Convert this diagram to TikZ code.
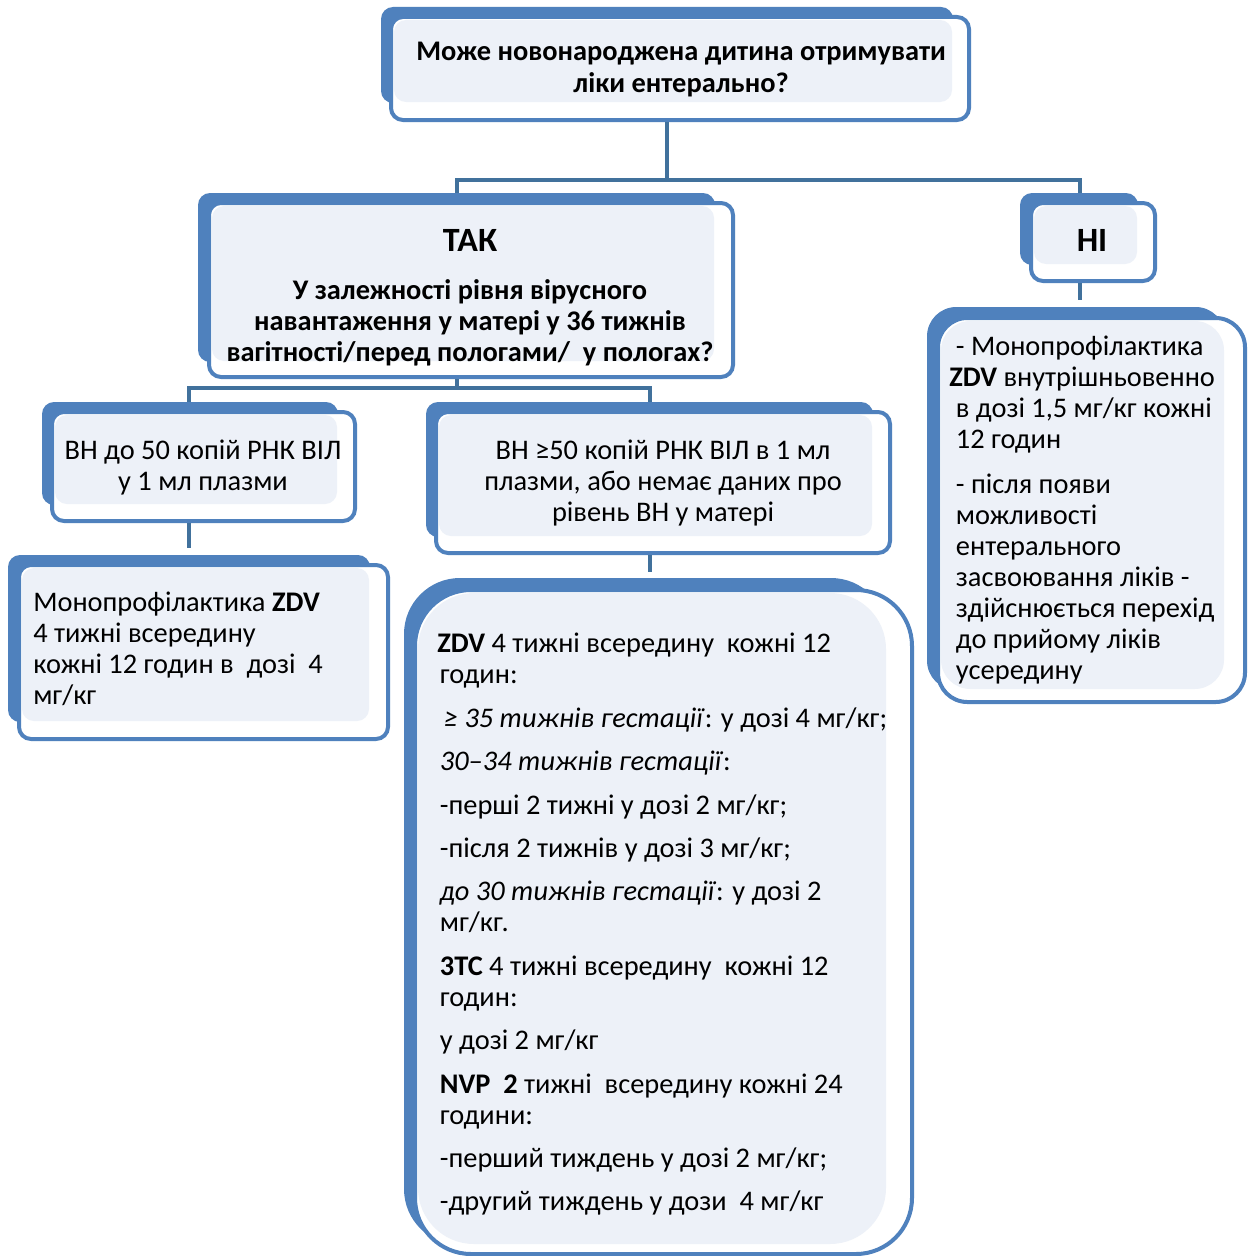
\documentclass[tikz,border=0pt]{standalone}
\usepackage{fontspec}
\setmainfont{Carlito}
\usetikzlibrary{fit,calc}
\definecolor{boxblue}{HTML}{4F81BD}
\definecolor{lightfill}{HTML}{EDF1F8}
\definecolor{connblue}{HTML}{41719C}
\newcommand\drawbox[9]{%
  \node[shadowbox, rounded corners=\rad, fit={(#2,#3) (#4,#5)}] (#1A) {};
  \node[outbox, rounded corners=\rad, fit={(#6,#7) (#8,#9)}] (#1) {};
  \fill[lightfill, rounded corners=\rad] ({#6+3},{#7+3}) rectangle ({#4-1},{#5-1});
}
\begin{document}
\begin{tikzpicture}[x=0.75pt,y=-0.75pt,
  shadowbox/.style={fill=boxblue, draw=none, inner sep=0pt},
  outbox/.style={draw=boxblue, line width=3pt, fill=white, inner sep=0pt},
  conn/.style={draw=connblue, line width=3pt},
  txt/.style={font=\fontsize{21.3}{23.25}\selectfont, inner sep=0pt},
  txtb/.style={font=\bfseries\fontsize{21.3}{23.25}\selectfont, inner sep=0pt},
  head/.style={font=\bfseries\fontsize{25.5}{28}\selectfont, inner sep=0pt}]
\useasboundingbox (0,0) rectangle (1247,1256);
\fill[white] (0,0) rectangle (1247,1256);

% boxes
\def\rad{9pt}
\drawbox{top}{381}{7}{953}{103}{391}{17}{969}{120}
\drawbox{tak}{198}{193}{715}{362}{209}{203}{733}{377}
\drawbox{ni}{1020}{193}{1138}{265}{1031}{203}{1155}{281}
\drawbox{vnl}{42}{402}{338}{505}{52}{412}{355}{521}
\drawbox{vnr}{426}{402}{873}{537}{436}{412}{890}{553}
\drawbox{mono}{8}{555}{370}{722}{19}{565}{388}{739}
\def\rad{22pt}
\drawbox{niv}{927}{307}{1225}{690}{938}{318}{1245}{702}
\def\rad{42pt}
\drawbox{big}{404}{578}{887}{1245}{415}{590}{912}{1254}

% connector junctions
\coordinate (j1m) at (667,180);
\coordinate (j1l) at (457,180);
\coordinate (j1r) at (1080,180);
\coordinate (j2m) at (457,388);
\coordinate (j2l) at (189,388);
\coordinate (j2r) at (650,388);
\coordinate (j3) at (189,548);
\coordinate (j4) at (650,572);
\coordinate (j5) at (1080,300);

\draw[conn] (top.south -| j1m) -- (j1m);
\draw[conn] (j1l |- takA.north) -- (j1l) -- (j1r) -- (j1r |- niA.north);
\draw[conn] (tak.south -| j2m) -- (j2m);
\draw[conn] (j2l |- vnlA.north) -- (j2l) -- (j2r) -- (j2r |- vnrA.north);
\draw[conn] (vnl.south -| j3) -- (j3);
\draw[conn] (vnr.south -| j4) -- (j4);
\draw[conn] (ni.south -| j5) -- (j5);

% texts
\node[txtb, align=center, anchor=north, font=\bfseries\fontsize{21.3}{24}\selectfont] (ttop) at (681,37.6)
  {\strut Може новонароджена дитина отримувати\\ліки ентерально?};
\node[head, anchor=base] (ttak) at (470,251) {ТАК};
\node[txtb, align=center, anchor=north] (ttak2) at (470,277.3)
  {\strut У залежності рівня вірусного\\навантаження у матері у 36 тижнів\\вагітності/перед пологами/\ \ у пологах?};
\node[head, anchor=base] (tni) at (1092,251) {НІ};
\node[txt, align=center, anchor=north] (tvnl) at (203,437.3)
  {\strut ВН до 50 копій РНК ВІЛ\\у 1 мл плазми};
\node[txt, align=center, anchor=north] (tvnr) at (663,437.3)
  {\strut ВН ≥50 копій РНК ВІЛ в 1 мл\\плазми, або немає даних про\\рівень ВН у матері};
\node[txt, align=left, anchor=north west] (tmono) at (33,589.3)
  {\strut Монопрофілактика \textbf{ZDV}\\4 тижні всередину\\кожні 12 годин в\ \ дозі\ \ 4\\мг/кг};
\node[txt, align=left, anchor=north west] (tniv) at (949,333.3)
  {\strut\hspace{5pt}- Монопрофілактика\\\textbf{ZDV} внутрішньовенно\\\hspace{5pt}в дозі 1,5 мг/кг кожні\\\hspace{5pt}12 годин\\[10.8pt]
   \hspace{5pt}- після появи\\\hspace{5pt}можливості\\\hspace{5pt}ентерального\\\hspace{5pt}засвоювання ліків -\\\hspace{5pt}здійснюється перехід\\\hspace{5pt}до прийому ліків\\\hspace{5pt}усередину};
\node[txt, align=left, anchor=north west] (tbig) at (437,631)
  {\strut\textbf{ZDV} 4 тижні всередину\ \ кожні 12\\\hspace{2pt}годин:\\[9.3pt]
   \hspace{5pt}\textit{≥ 35 тижнів гестації}: у дозі 4 мг/кг;\\[9.3pt]
   \hspace{2pt}\textit{30–34 тижнів гестації}:\\[9.3pt]
   \hspace{2pt}-перші 2 тижні у дозі 2 мг/кг;\\[9.3pt]
   \hspace{2pt}-після 2 тижнів у дозі 3 мг/кг;\\[9.3pt]
   \hspace{2pt}\textit{до 30 тижнів гестації}: у дозі 2\\\hspace{2pt}мг/кг.\\[9.3pt]
   \hspace{2pt}\textbf{3TC} 4 тижні всередину\ \ кожні 12\\\hspace{2pt}годин:\\[9.3pt]
   \hspace{2pt}у дозі 2 мг/кг\\[9.3pt]
   \hspace{2pt}\textbf{NVP\ \ 2} тижні\ \ всередину кожні 24\\\hspace{2pt}години:\\[9.3pt]
   \hspace{2pt}-перший тиждень у дозі 2 мг/кг;\\[9.3pt]
   \hspace{2pt}-другий тиждень у дози\ \ 4 мг/кг};
\end{tikzpicture}
\end{document}
